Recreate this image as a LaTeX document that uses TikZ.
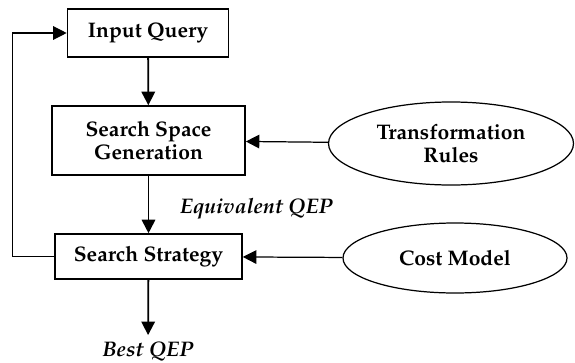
\documentclass[tikz,border=0pt]{standalone}
\usepackage[T1]{fontenc}
\usepackage{mathpazo}
\usepackage{tikz}
\usetikzlibrary{arrows.meta, positioning, shapes.geometric}

\begin{document}
\begin{tikzpicture}[
        stage/.style={rectangle, draw=black, fill=white, line width=0.9pt, align=center, font=\bfseries\large, inner sep=0pt},
        source/.style={ellipse, draw=black, fill=white, line width=0.7pt, align=center, font=\bfseries\large, inner sep=0pt},
        result/.style={font=\bfseries\itshape\large},
        flow/.style={-{Triangle[length=0.27cm, width=0.27cm]}, line width=1pt, black},
        feed/.style={-{Triangle[length=0.27cm, width=0.27cm]}, line width=0.7pt, black}
    ]
    \useasboundingbox (0,0) rectangle (11.5,7.24);

    \node[stage, minimum width=3.22cm, minimum height=0.96cm] (query) at (2.96, 6.58) {Input Query};
    \node[stage, minimum width=3.86cm, minimum height=1.38cm] (ssg) at (2.97, 4.43) {Search Space\\[-1pt]Generation};
    \node[stage, minimum width=3.74cm, minimum height=0.90cm] (ss) at (2.97, 2.11) {Search Strategy};
    \node[result] (best) at (2.96, 0.22) {Best QEP};

    \node[source, minimum width=4.9cm, minimum height=1.66cm] (rules) at (9.02, 4.37) {Transformation\\[-1pt]Rules};
    \node[source, minimum width=4.48cm, minimum height=1.40cm] (cost) at (9.10, 2.08) {Cost Model};

    \draw[flow] (query) -- (ssg);
    \draw[flow] (ssg) -- (ss) node[midway, right, xshift=0.5cm, yshift=-0.09cm, result] {Equivalent QEP};
    \draw[flow] (ss) -- (best);

    \draw[feed] (rules) -- (ssg);
    \draw[feed] (cost) -- (ss);

    % loop back to the query
    \draw[feed] (ss.west) -- ++(-0.84,0) |- (query.west);
\end{tikzpicture}
\end{document}
